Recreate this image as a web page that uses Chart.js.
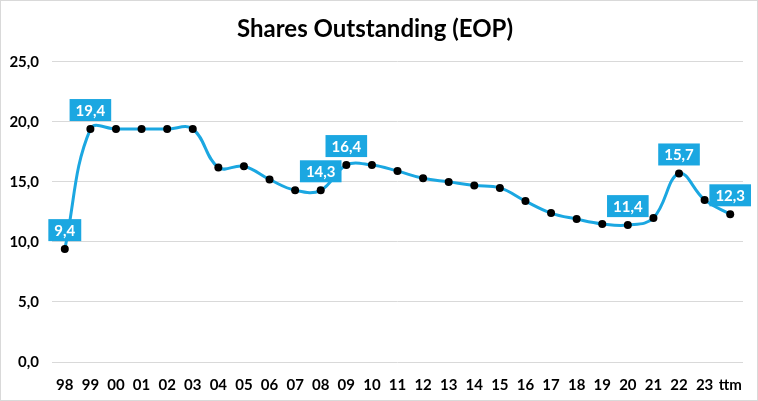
<!DOCTYPE html>
<html>
<head>
<meta charset="utf-8">
<script src="https://cdn.jsdelivr.net/npm/chart.js@4"></script>
<style>
  html, body { margin: 0; padding: 0; background: #fff; }
  #wrap { position: relative; width: 756px; height: 399px; border: 1px solid #d9d9d9; }
</style>
</head>
<body>
<div id="wrap"><canvas id="shares"></canvas></div>
<script>
const years = ['98', '99', '00', '01', '02', '03', '04', '05', '06', '07', '08', '09', '10',
  '11', '12', '13', '14', '15', '16', '17', '18', '19', '20', '21', '22', '23', 'ttm'];
const shares = [9.4, 19.4, 19.4, 19.4, 19.4, 19.4, 16.2, 16.3, 15.2, 14.3, 14.3, 16.4, 16.4,
  15.9, 15.3, 15.0, 14.7, 14.5, 13.4, 12.4, 11.9, 11.5, 11.4, 12.0, 15.7, 13.5, 12.3];
const yTicks = [0, 5, 10, 15, 20, 25];
// which points get a value box
const labelled = ['98', '99', '08', '09', '20', '22', 'ttm'];

const blue = '#1ba7e1';
const fmt = v => v.toFixed(1).replace('.', ',');

const valueBoxes = {
  id: 'valueBoxes',
  afterDatasetsDraw(chart) {
    const ctx = chart.ctx;
    const meta = chart.getDatasetMeta(0);
    ctx.save();
    ctx.font = 'bold 15px Lato, "Open Sans", sans-serif';
    ctx.textAlign = 'center';
    ctx.textBaseline = 'middle';
    labelled.forEach(lab => {
      const i = years.indexOf(lab);
      const pt = meta.data[i];
      const txt = fmt(shares[i]);
      const w = ctx.measureText(txt).width + 12;
      const h = 22;
      const x = pt.x - w / 2;
      const y = pt.y - 8 - h;
      ctx.fillStyle = blue;
      ctx.fillRect(x, y, w, h);
      ctx.fillStyle = '#fff';
      ctx.fillText(txt, pt.x, y + h / 2 + 1);
    });
    ctx.restore();
  }
};

new Chart(document.getElementById('shares'), {
  type: 'line',
  data: {
    labels: years,
    datasets: [{
      data: shares,
      borderColor: blue,
      borderWidth: 3,
      tension: 0.4,
      pointRadius: 4,
      pointBackgroundColor: '#000',
      pointBorderColor: '#000',
      pointBorderWidth: 0,
      fill: false
    }]
  },
  options: {
    responsive: true,
    maintainAspectRatio: false,
    animation: false,
    layout: { padding: { left: 6, right: 14, bottom: 0 } },
    plugins: {
      legend: { display: false },
      tooltip: { enabled: false },
      title: {
        display: true,
        text: 'Shares Outstanding (EOP)',
        color: '#000',
        font: { family: 'Lato, "Open Sans", sans-serif', size: 24, weight: 'bold' },
        padding: { top: 14, bottom: 18 }
      }
    },
    scales: {
      x: {
        offset: true,
        grid: { display: false },
        border: { display: false },
        ticks: {
          color: '#000',
          font: { family: 'Lato, "Open Sans", sans-serif', size: 15, weight: 'bold' },
          maxRotation: 0,
          autoSkip: false,
          padding: 6
        }
      },
      y: {
        min: 0,
        max: 25,
        afterBuildTicks: axis => { axis.ticks = yTicks.map(v => ({ value: v })); },
        afterFit: axis => { axis.width = 45; },
        grid: { color: '#d9d9d9', lineWidth: 1, drawTicks: false },
        border: { display: false },
        ticks: {
          color: '#000',
          font: { family: 'Lato, "Open Sans", sans-serif', size: 15, weight: 'bold' },
          padding: 13,
          callback: v => fmt(v)
        }
      }
    }
  },
  plugins: [valueBoxes]
});
</script>
</body>
</html>
